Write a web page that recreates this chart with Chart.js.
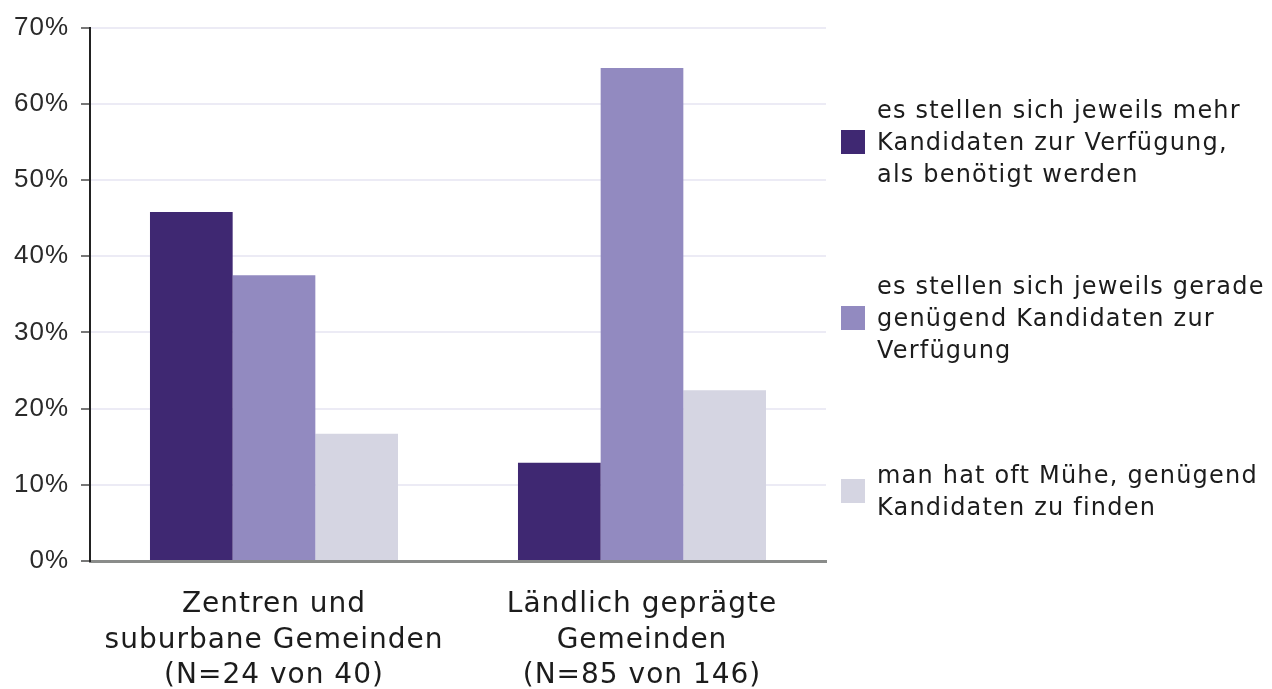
<!DOCTYPE html>
<html>
<head>
<meta charset="utf-8">
<script src="https://cdn.jsdelivr.net/npm/chart.js@4.4.1/dist/chart.umd.min.js"></script>
<style>
  html, body { margin: 0; padding: 0; background: #fff; }
  #wrap { position: relative; width: 1272px; height: 689px; }
  #chart { position: absolute; left: 0; top: 0; }
  .legend-item {
    position: absolute; left: 841px; display: flex; align-items: center;
    transform: translateY(-50%);
    font-family: "DejaVu Sans", sans-serif; font-size: 24px; line-height: 32px;
    letter-spacing: 1.2px; color: #1c1c1c;
  }
  .legend-box { width: 24px; height: 24px; margin-right: 12px; flex: none; }
</style>
</head>
<body>
<div id="wrap">
  <canvas id="chart" width="1272" height="689"></canvas>
  <div id="legend"></div>
</div>
<script>
// categories (multi-line tick labels)
const categories = [
  ["Zentren und", "suburbane Gemeinden", "(N=24 von 40)"],
  ["Ländlich geprägte", "Gemeinden", "(N=85 von 146)"]
];
const seriesNames = [
  ["es stellen sich jeweils mehr", "Kandidaten zur Verfügung,", "als benötigt werden"],
  ["es stellen sich jeweils gerade", "genügend Kandidaten zur", "Verfügung"],
  ["man hat oft Mühe, genügend", "Kandidaten zu finden"]
];
const seriesColors = ["#3f2872", "#928ac0", "#d5d5e2"];

// shares in percent
const moreThanNeeded = [45.8, 12.9];
const justEnough = [37.5, 64.7];
const hardToFind = [16.7, 22.4];

const yMin = 0;
const yMax = 70;
const yStep = 10;

// legend item centres (px)
const legendTops = [142, 318, 491];

const seriesValues = [moreThanNeeded, justEnough, hardToFind];

// canvas letter spacing, to get closer to the wide original font
const spacingPlugin = {
  id: "spacing",
  beforeDraw(chart) { chart.ctx.letterSpacing = "1px"; },
  afterDraw(chart) { chart.ctx.letterSpacing = "0px"; }
};

const ctx = document.getElementById("chart");
const chart = new Chart(ctx, {
  type: "bar",
  data: {
    labels: categories,
    datasets: seriesValues.map((vals, i) => ({
      label: seriesNames[i].join(" "),
      data: vals,
      backgroundColor: seriesColors[i],
      borderWidth: 0,
      barPercentage: 1,
      categoryPercentage: 0.674
    }))
  },
  options: {
    responsive: false,
    animation: false,
    layout: { padding: { top: 23, right: 446, bottom: 0, left: 0 } },
    plugins: {
      legend: { display: false },
      tooltip: { enabled: false }
    },
    scales: {
      x: {
        grid: { display: false },
        border: { color: "#8a8c8a", width: 3 },
        ticks: {
          color: "#1c1c1c",
          padding: 18,
          maxRotation: 0,
          autoSkip: false,
          font: { family: "DejaVu Sans", size: 28, lineHeight: 1.27 }
        },
        afterFit(scale) { scale.height = 128; }
      },
      y: {
        min: yMin,
        max: yMax,
        grid: {
          color: "#ecebf5",
          lineWidth: 2,
          tickColor: "#777",
          tickLength: 9,
          tickWidth: 2
        },
        border: { color: "#222", width: 2 },
        ticks: {
          stepSize: yStep,
          color: "#2a2a2a",
          padding: 12,
          font: { family: "Liberation Sans", size: 26 },
          callback: (v) => v + "%"
        },
        afterFit(scale) { scale.width = 90; }
      }
    }
  },
  plugins: [spacingPlugin]
});

// html legend built from the same series arrays
const legendEl = document.getElementById("legend");
seriesNames.forEach((lines, i) => {
  const item = document.createElement("div");
  item.className = "legend-item";
  item.style.top = legendTops[i] + "px";
  const box = document.createElement("div");
  box.className = "legend-box";
  box.style.background = seriesColors[i];
  const text = document.createElement("div");
  text.innerHTML = lines.join("<br>");
  item.appendChild(box);
  item.appendChild(text);
  legendEl.appendChild(item);
});
</script>
</body>
</html>
